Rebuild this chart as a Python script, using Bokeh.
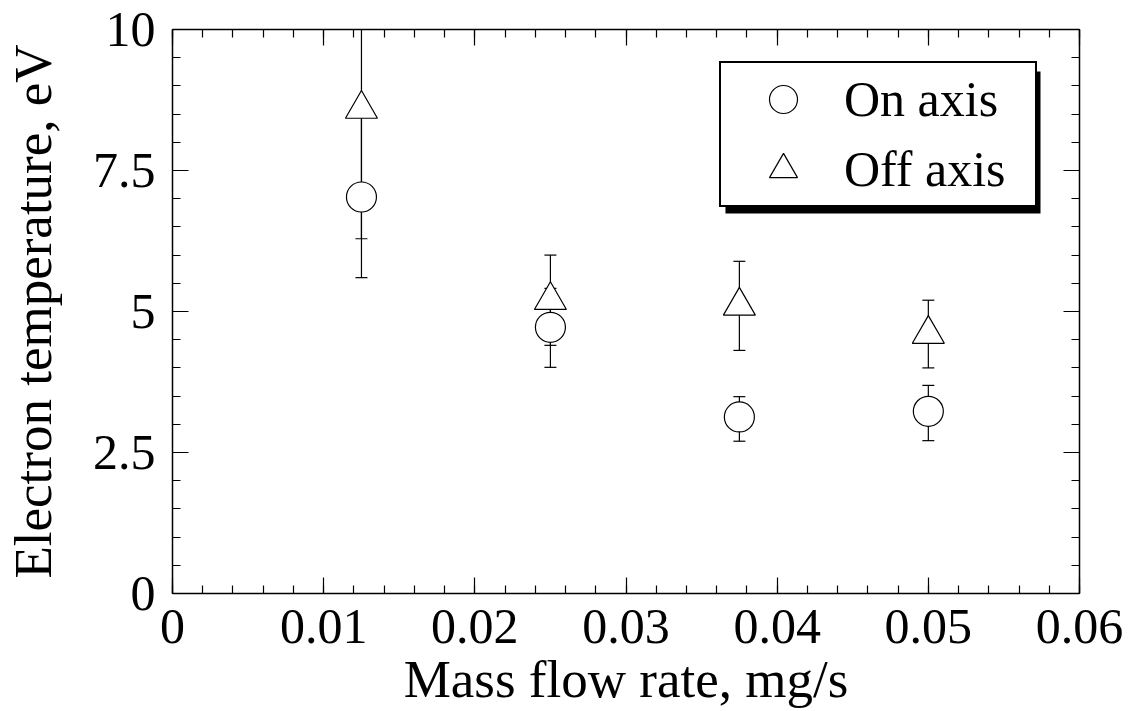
import numpy as np
from bokeh.plotting import figure
from bokeh.models import (ColumnDataSource, Whisker, TeeHead, LinearAxis, FixedTicker,
                          CustomJSTickFormatter, Legend, LegendItem, Range1d, BoxAnnotation)
from bokeh.embed import file_html
from bokeh.resources import INLINE

# ---- data ----
mass_flow = [0.0125, 0.025, 0.0375, 0.05]
on_axis = [7.03, 4.72, 3.13, 3.23]
on_lower = [5.60, 4.01, 2.70, 2.71]
on_upper = [8.46, 5.41, 3.49, 3.69]
off_axis = [8.59, 5.20, 5.10, 4.60]
off_lower = [6.29, 4.40, 4.31, 4.00]
off_upper = [10.89, 6.00, 5.89, 5.20]

x_ticks = [0, 0.01, 0.02, 0.03, 0.04, 0.05, 0.06]
x_tick_labels = ["0", "0.01", "0.02", "0.03", "0.04", "0.05", "0.06"]
y_ticks = [0, 2.5, 5, 7.5, 10]
y_tick_labels = ["0", "2.5", "5", "7.5", "10"]

FONT = "Liberation Serif"

src_on = ColumnDataSource(dict(x=mass_flow, y=on_axis, lo=on_lower, hi=on_upper))
src_off = ColumnDataSource(dict(x=mass_flow, y=off_axis, lo=off_lower, hi=off_upper))

p = figure(frame_width=907, frame_height=564, output_backend="svg", toolbar_location=None,
           x_range=Range1d(0, 0.06), y_range=Range1d(0, 10),
           x_axis_location=None, y_axis_location=None,
           min_border_left=162, min_border_top=29, min_border_right=47, min_border_bottom=100)
p.grid.visible = False
p.outline_line_color = None
p.background_fill_color = "white"
p.border_fill_color = "white"

x_minor = [round(v, 4) for v in np.arange(0, 0.0601, 0.002)]
y_minor = [round(v, 2) for v in np.arange(0, 10.01, 0.5)]

blank = CustomJSTickFormatter(code="return ''")


def style(ax, labels=True):
    ax.axis_line_color = "black"
    ax.axis_line_width = 1.5
    ax.major_tick_in = 16
    ax.major_tick_out = 0
    ax.minor_tick_in = 8
    ax.minor_tick_out = 0
    ax.major_tick_line_color = "black"
    ax.minor_tick_line_color = "black"
    ax.major_tick_line_width = 1.2
    ax.minor_tick_line_width = 1.2
    ax.major_label_text_font = FONT
    ax.major_label_text_font_size = "50px"
    ax.major_label_text_color = "black"
    ax.axis_label_text_font = FONT
    ax.axis_label_text_font_size = "53px"
    ax.axis_label_text_font_style = "normal"
    ax.axis_label_text_color = "black"
    if not labels:
        ax.formatter = blank


xb = LinearAxis(ticker=FixedTicker(ticks=x_ticks, minor_ticks=x_minor),
                axis_label="Mass flow rate, mg/s")
style(xb)
xb.major_label_overrides = {t: l for t, l in zip(x_ticks, x_tick_labels)}
xb.major_label_standoff = 16
xb.axis_label_standoff = 4
p.add_layout(xb, "below")

yl = LinearAxis(ticker=FixedTicker(ticks=y_ticks, minor_ticks=y_minor),
                axis_label="Electron temperature, eV")
style(yl)
yl.major_label_overrides = {t: l for t, l in zip(y_ticks, y_tick_labels)}
yl.major_label_standoff = 17
yl.axis_label_standoff = 28
p.add_layout(yl, "left")

xt = LinearAxis(ticker=FixedTicker(ticks=x_ticks, minor_ticks=x_minor))
style(xt, labels=False)
xt.major_label_text_font_size = "0px"
p.add_layout(xt, "above")

yr = LinearAxis(ticker=FixedTicker(ticks=y_ticks, minor_ticks=y_minor))
style(yr, labels=False)
yr.major_label_text_font_size = "0px"
p.add_layout(yr, "right")

for src in (src_on, src_off):
    w = Whisker(source=src, base="x", lower="lo", upper="hi", dimension="height",
                line_color="black", line_width=1.2, level="underlay",
                upper_head=TeeHead(size=12, line_color="black", line_width=1.2),
                lower_head=TeeHead(size=12, line_color="black", line_width=1.2))
    p.add_layout(w)

r_on = p.scatter("x", "y", source=src_on, marker="circle", size=30,
                 fill_color="white", line_color="black", line_width=1.2)
r_off = p.scatter("x", "y", source=src_off, marker="triangle", size=32,
                  fill_color="white", line_color="black", line_width=1.2)

# legend drop shadow
shadow = BoxAnnotation(left=0.03658, right=0.05742, top=9.255, bottom=6.738,
                       fill_color="black", fill_alpha=1, line_color=None)
p.add_layout(shadow)

legend = Legend(items=[LegendItem(label="On axis", renderers=[r_on]),
                       LegendItem(label="Off axis", renderers=[r_off])],
                location=(547, 386), orientation="vertical",
                label_text_font=FONT, label_text_font_size="50px", label_text_color="black",
                glyph_width=122, glyph_height=70, label_standoff=0, label_height=70,
                label_width=190, padding=1, spacing=0, margin=0,
                border_line_color="black", border_line_width=2, border_line_alpha=1,
                background_fill_color="white", background_fill_alpha=1)
p.add_layout(legend)

open("out.html", "w").write(file_html(p, INLINE))
